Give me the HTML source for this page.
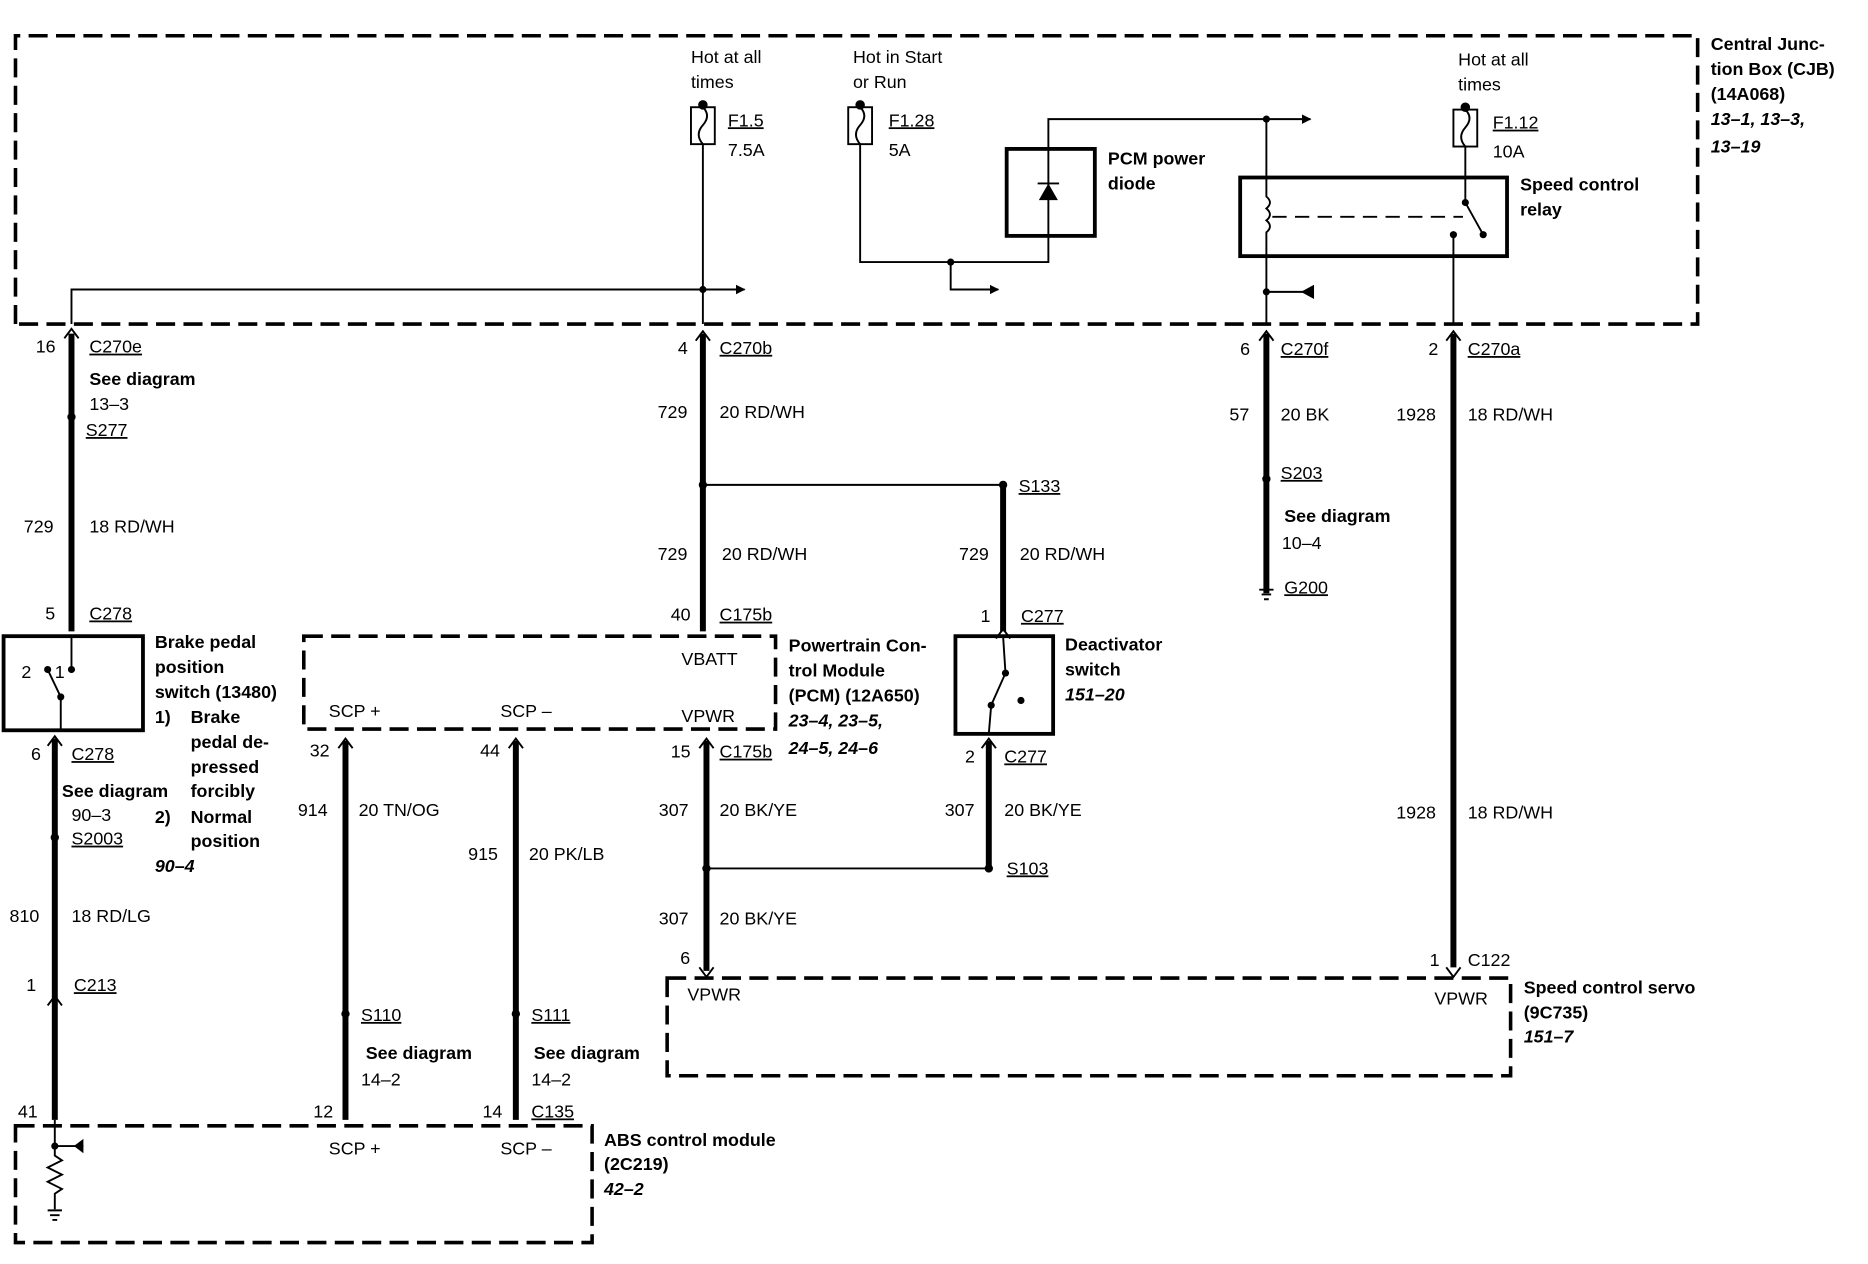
<!DOCTYPE html>
<html><head><meta charset="utf-8"><style>
html,body{margin:0;padding:0;background:#fff;}
svg{display:block;}
text{font-family:"Liberation Sans",sans-serif;font-size:15px;fill:#000;}
.b{font-weight:bold;}
.i{font-weight:bold;font-style:italic;}
.u{text-decoration:underline;}
.th{stroke:#000;stroke-width:5;fill:none;}
.tn{stroke:#000;stroke-width:1.6;fill:none;}
.bx{stroke:#000;stroke-width:3.2;fill:none;}
.ds{stroke:#000;stroke-width:3;fill:none;stroke-dasharray:16,7;}
</style></head><body>
<svg width="1868" height="1264" viewBox="0 0 1568 1061" preserveAspectRatio="none" xmlns="http://www.w3.org/2000/svg">
<defs>
<marker id="ar" viewBox="0 0 10 10" refX="9" refY="5" markerWidth="8" markerHeight="8" orient="auto" markerUnits="userSpaceOnUse"><path d="M0,0 L10,5 L0,10 z" fill="#000"/></marker>
</defs>
<!-- CJB box -->
<path class="ds" d="M13,272 L13,30 L1425,30 L1425,272 L13,272"/>
<text class="b" x="1436" y="42">Central Junc-</text>
<text class="b" x="1436" y="63">tion Box (CJB)</text>
<text class="b" x="1436" y="84">(14A068)</text>
<text class="i" x="1436" y="105">13–1, 13–3,</text>
<text class="i" x="1436" y="128">13–19</text>

<!-- left wire -->
<path class="tn" d="M60,272 L60,243 L625,243" marker-end="url(#ar)"/>
<path class="th" d="M60,280 L60,530"/>
<path d="M54,284 L60,276 L66,284" class="tn"/>
<circle cx="60" cy="350" r="3.5"/>
<text x="30" y="296">16</text><text class="u" x="75" y="296">C270e</text>
<text class="b" x="75" y="323">See diagram</text><text x="75" y="344">13–3</text>
<text class="u" x="72" y="366">S277</text>
<text x="20" y="447">729</text><text x="75" y="447">18 RD/WH</text>
<text x="38" y="520">5</text><text class="u" x="75" y="520">C278</text>

<!-- brake switch -->
<rect class="bx" x="3" y="534" width="117" height="79"/>
<path class="tn" d="M60,534 L60,562"/><circle cx="60" cy="562" r="3"/>
<circle cx="40" cy="562" r="3"/><path class="tn" d="M40,562 L51,585 L51,613"/><circle cx="51" cy="585" r="3"/>
<text x="18" y="569">2</text><text x="46" y="569">1</text>
<path class="th" d="M46,620 L46,940"/>
<path d="M40,626 L46,618 L52,626" class="tn"/>
<text x="26" y="638">6</text><text class="u" x="60" y="638">C278</text>
<text class="b" x="52" y="669">See diagram</text><text x="60" y="689">90–3</text>
<circle cx="46" cy="703" r="3.5"/><text class="u" x="60" y="709">S2003</text>
<text x="8" y="774">810</text><text x="60" y="774">18 RD/LG</text>
<text x="22" y="832">1</text><text class="u" x="62" y="832">C213</text>
<path d="M40,844 L46,836 L52,844" class="tn"/>
<text x="15" y="938">41</text>
<text class="b" x="130" y="544">Brake pedal</text>
<text class="b" x="130" y="565">position</text>
<text class="b" x="130" y="586">switch (13480)</text>
<text class="b" x="130" y="607">1)</text><text class="b" x="160" y="607">Brake</text>
<text class="b" x="160" y="628">pedal de-</text>
<text class="b" x="160" y="649">pressed</text>
<text class="b" x="160" y="669">forcibly</text>
<text class="b" x="130" y="691">2)</text><text class="b" x="160" y="691">Normal</text>
<text class="b" x="160" y="711">position</text>
<text class="i" x="130" y="732">90–4</text>

<!-- ABS box -->
<path class="ds" d="M13,945 L497,945 L497,1043 L13,1043 Z"/>
<path class="tn" d="M46,940 L46,960 L46,962 L70,962"/><path d="M70,956 L70,968 L62,962 z"/>
<circle cx="46" cy="962" r="3"/>
<path class="tn" d="M46,962 L46,970 L52,974 L40,980 L52,986 L40,992 L52,998 L46,1002 L46,1015"/>
<path class="tn" d="M40,1016 L52,1016 M42,1020 L50,1020 M44,1024 L48,1024"/>
<text x="276" y="969">SCP +</text><text x="420" y="969">SCP –</text>
<text class="b" x="507" y="962">ABS control module</text>
<text class="b" x="507" y="982">(2C219)</text>
<text class="i" x="507" y="1003">42–2</text>

<!-- PCM box -->
<path class="ds" d="M255,534 L651,534 L651,612 L255,612 Z"/>
<text x="572" y="558">VBATT</text><text x="276" y="602">SCP +</text><text x="420" y="602">SCP –</text><text x="572" y="606">VPWR</text>
<text class="b" x="662" y="547">Powertrain Con-</text>
<text class="b" x="662" y="568">trol Module</text>
<text class="b" x="662" y="589">(PCM) (12A650)</text>
<text class="i" x="662" y="610">23–4, 23–5,</text>
<text class="i" x="662" y="633">24–5, 24–6</text>

<!-- SCP wires -->
<path class="th" d="M290,622 L290,940"/><path class="th" d="M433,622 L433,940"/>
<path d="M284,628 L290,620 L296,628" class="tn"/><path d="M427,628 L433,620 L439,628" class="tn"/>
<text x="260" y="635">32</text><text x="403" y="635">44</text>
<text x="250" y="685">914</text><text x="301" y="685">20 TN/OG</text>
<text x="393" y="722">915</text><text x="444" y="722">20 PK/LB</text>
<circle cx="290" cy="851" r="3.5"/><text class="u" x="303" y="857">S110</text>
<circle cx="433" cy="851" r="3.5"/><text class="u" x="446" y="857">S111</text>
<text class="b" x="307" y="889">See diagram</text><text x="303" y="911">14–2</text>
<text class="b" x="448" y="889">See diagram</text><text x="446" y="911">14–2</text>
<text x="263" y="938">12</text><text x="405" y="938">14</text><text class="u" x="446" y="938">C135</text>

<!-- center fuse F1.5 -->
<rect class="tn" x="580" y="90" width="20" height="31" stroke-width="2"/>
<circle cx="590" cy="88" r="4"/>
<path class="tn" d="M590,90 Q597,97 590,105 Q583,113 590,121 L590,272"/>
<circle cx="590" cy="243" r="3"/>
<text x="580" y="53">Hot at all</text><text x="580" y="74">times</text>
<text class="u" x="611" y="106">F1.5</text><text x="611" y="131">7.5A</text>
<path class="th" d="M590,280 L590,530"/><path d="M584,286 L590,278 L596,286" class="tn"/>
<text x="569" y="297">4</text><text class="u" x="604" y="297">C270b</text>
<text x="552" y="351">729</text><text x="604" y="351">20 RD/WH</text>
<circle cx="590" cy="407" r="3.5"/><path class="tn" d="M590,407 L842,407"/>
<circle cx="842" cy="407" r="3.5"/><text class="u" x="855" y="413">S133</text>
<text x="552" y="470">729</text><text x="606" y="470">20 RD/WH</text>
<text x="563" y="521">40</text><text class="u" x="604" y="521">C175b</text>
<path class="th" d="M593,622 L593,815"/><path d="M587,628 L593,620 L599,628" class="tn"/>
<text x="563" y="636">15</text><text class="u" x="604" y="636">C175b</text>
<text x="553" y="685">307</text><text x="604" y="685">20 BK/YE</text>
<circle cx="593" cy="729" r="3.5"/><path class="tn" d="M593,729 L830,729"/>
<circle cx="830" cy="729" r="3.5"/><text class="u" x="845" y="734">S103</text>
<text x="553" y="776">307</text><text x="604" y="776">20 BK/YE</text>
<text x="571" y="809">6</text>
<path d="M587,812 L593,820 L599,812" class="tn"/>

<!-- deactivator -->
<path class="th" d="M842,407 L842,530"/><path d="M836,536 L842,528 L848,536" class="tn"/>
<text x="805" y="470">729</text><text x="856" y="470">20 RD/WH</text>
<text x="823" y="522">1</text><text class="u" x="857" y="522">C277</text>
<rect class="bx" x="802" y="534" width="82" height="82"/>
<path class="tn" d="M842,534 L844,565 L832,592 L830,616"/><circle cx="844" cy="565" r="3"/><circle cx="832" cy="592" r="3"/><circle cx="857" cy="588" r="3"/>
<text class="b" x="894" y="546">Deactivator</text><text class="b" x="894" y="567">switch</text><text class="i" x="894" y="588">151–20</text>
<path class="th" d="M830,622 L830,729"/><path d="M824,628 L830,620 L836,628" class="tn"/>
<text x="810" y="640">2</text><text class="u" x="843" y="640">C277</text>
<text x="793" y="685">307</text><text x="843" y="685">20 BK/YE</text>

<!-- F1.28 -->
<rect class="tn" x="712" y="90" width="20" height="31" stroke-width="2"/>
<circle cx="722" cy="88" r="4"/>
<path class="tn" d="M722,90 Q729,97 722,105 Q715,113 722,121 L722,220 L880,220 L880,100 L1100,100" marker-end="url(#ar)"/>
<circle cx="798" cy="220" r="3"/><path class="tn" d="M798,220 L798,243 L838,243" marker-end="url(#ar)"/>
<text x="716" y="53">Hot in Start</text><text x="716" y="74">or Run</text>
<text class="u" x="746" y="106">F1.28</text><text x="746" y="131">5A</text>
<rect class="bx" x="845" y="125" width="74" height="73"/>
<path d="M880,154 L872,168 L888,168 z"/><path class="tn" d="M871,154 L889,154" stroke-width="2.5"/>
<text class="b" x="930" y="138">PCM power</text><text class="b" x="930" y="159">diode</text>

<!-- relay -->
<rect class="bx" x="1041" y="149" width="224" height="66"/>
<circle cx="1063" cy="100" r="3"/>
<path class="tn" d="M1063,100 L1063,165 Q1069,170 1063,175 Q1069,180 1063,185 Q1069,190 1063,195 L1063,272"/>
<path class="tn" d="M1068,182 L1228,182" stroke-dasharray="12,7"/>
<circle cx="1063" cy="245" r="3"/><path class="tn" d="M1063,245 L1100,245"/><path d="M1092,245 L1103,239 L1103,251 z"/>
<rect class="tn" x="1220" y="92" width="20" height="31" stroke-width="2"/>
<circle cx="1230" cy="90" r="4"/>
<path class="tn" d="M1230,92 Q1237,99 1230,107 Q1223,115 1230,123 L1230,170 L1245,197"/>
<circle cx="1230" cy="170" r="3"/><circle cx="1245" cy="197" r="3"/>
<circle cx="1220" cy="197" r="3"/><path class="tn" d="M1220,197 L1220,272"/>
<text x="1224" y="55">Hot at all</text><text x="1224" y="76">times</text>
<text class="u" x="1253" y="108">F1.12</text><text x="1253" y="132">10A</text>
<text class="b" x="1276" y="160">Speed control</text><text class="b" x="1276" y="181">relay</text>

<!-- C270f -->
<path class="th" d="M1063,280 L1063,498"/><path d="M1057,286 L1063,278 L1069,286" class="tn"/>
<text x="1041" y="298">6</text><text class="u" x="1075" y="298">C270f</text>
<text x="1032" y="353">57</text><text x="1075" y="353">20 BK</text>
<circle cx="1063" cy="402" r="3.5"/><text class="u" x="1075" y="402">S203</text>
<text class="b" x="1078" y="438">See diagram</text><text x="1076" y="461">10–4</text>
<path class="tn" d="M1057,495 L1069,495 M1059,499 L1067,499 M1061,503 L1065,503"/>
<text class="u" x="1078" y="498">G200</text>

<!-- C270a -->
<path class="th" d="M1220,280 L1220,812"/><path d="M1214,286 L1220,278 L1226,286" class="tn"/>
<path d="M1214,812 L1220,820 L1226,812" class="tn"/>
<text x="1199" y="298">2</text><text class="u" x="1232" y="298">C270a</text>
<text x="1172" y="353">1928</text><text x="1232" y="353">18 RD/WH</text>
<text x="1172" y="687">1928</text><text x="1232" y="687">18 RD/WH</text>
<text x="1200" y="811">1</text><text x="1232" y="811">C122</text>

<!-- servo -->
<path class="ds" d="M560,821 L1268,821 L1268,903 L560,903 Z"/>
<text x="577" y="840">VPWR</text><text x="1204" y="843">VPWR</text>
<text class="b" x="1279" y="834">Speed control servo</text>
<text class="b" x="1279" y="855">(9C735)</text>
<text class="i" x="1279" y="875">151–7</text>
</svg>
</body></html>
